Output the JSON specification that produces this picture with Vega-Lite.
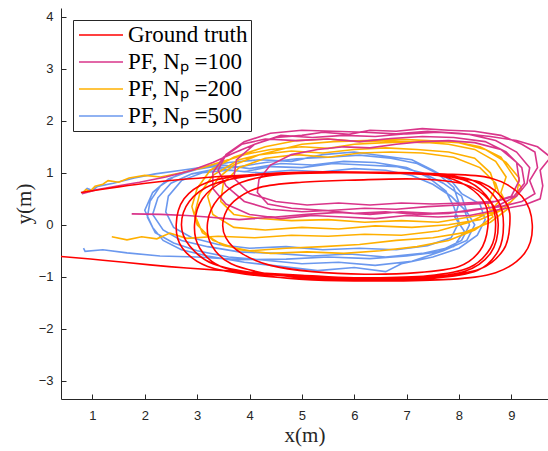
{
  "$schema": "https://vega.github.io/schema/vega-lite/v6.json",
  "width": 487,
  "height": 391,
  "autosize": {"type": "none"},
  "padding": {"left": 61, "top": 8, "right": 0, "bottom": 52},
  "background": "white",
  "config": {
    "view": {"stroke": null},
    "axis": {
      "grid": false,
      "domainColor": "#262626",
      "tickColor": "#262626",
      "tickSize": -5,
      "labelColor": "#262626",
      "labelFont": "Liberation Sans",
      "labelFontSize": 13,
      "titleFont": "Liberation Serif",
      "titleFontSize": 21,
      "titleFontWeight": "normal",
      "titleColor": "#262626"
    }
  },
  "datasets": {
    "traj": [
      {"s":"b","x":0.80,"y":0.60},{"s":"b","x":0.90,"y":0.70},{"s":"b","x":1.00,"y":0.66},{"s":"b","x":1.10,"y":0.74},{"s":"b","x":1.40,"y":0.80},{"s":"b","x":1.80,"y":0.90},{"s":"b","x":2.20,"y":0.98},{"s":"b","x":2.70,"y":1.05},{"s":"b","x":3.20,"y":1.12},{"s":"b","x":3.70,"y":1.10},{"s":"b","x":4.30,"y":1.20},{"s":"b","x":4.90,"y":1.27},{"s":"b","x":5.50,"y":1.30},{"s":"b","x":6.10,"y":1.34},{"s":"b","x":6.70,"y":1.28},{"s":"b","x":7.20,"y":1.18},{"s":"b","x":7.60,"y":0.98},{"s":"b","x":7.90,"y":0.72},{"s":"b","x":8.00,"y":0.42},{"s":"b","x":7.92,"y":0.15},{"s":"b","x":8.10,"y":-0.12},{"s":"b","x":7.90,"y":-0.42},{"s":"b","x":7.30,"y":-0.55},{"s":"b","x":6.60,"y":-0.62},{"s":"b","x":5.90,"y":-0.56},{"s":"b","x":5.20,"y":-0.60},{"s":"b","x":4.50,"y":-0.55},{"s":"b","x":3.80,"y":-0.52},{"s":"b","x":3.20,"y":-0.42},{"s":"b","x":2.70,"y":-0.30},{"s":"b","x":2.35,"y":-0.10},{"s":"b","x":2.15,"y":0.20},{"s":"b","x":2.25,"y":0.52},{"s":"b","x":2.50,"y":0.80},{"s":"b","x":2.90,"y":0.98},{"s":"b","x":3.40,"y":1.08},{"s":"b","x":3.90,"y":1.02},{"s":"b","x":4.40,"y":1.12},{"s":"b","x":5.00,"y":1.10},{"s":"b","x":5.60,"y":1.18},{"s":"b","x":6.20,"y":1.15},{"s":"b","x":6.80,"y":1.12},{"s":"b","x":7.30,"y":1.00},{"s":"b","x":7.70,"y":0.80},{"s":"b","x":8.05,"y":0.55},{"s":"b","x":8.15,"y":0.25},{"s":"b","x":8.30,"y":0.00},{"s":"b","x":8.15,"y":-0.30},{"s":"b","x":7.70,"y":-0.50},{"s":"b","x":7.10,"y":-0.70},{"s":"b","x":6.40,"y":-0.78},{"s":"b","x":5.70,"y":-0.72},{"s":"b","x":5.00,"y":-0.75},{"s":"b","x":4.30,"y":-0.68},{"s":"b","x":3.60,"y":-0.62},{"s":"b","x":3.00,"y":-0.50},{"s":"b","x":2.55,"y":-0.35},{"s":"b","x":2.20,"y":-0.15},{"s":"b","x":2.05,"y":0.15},{"s":"b","x":2.10,"y":0.45},{"s":"b","x":2.30,"y":0.75},{"s":"b","x":2.60,"y":0.95},{"s":"b","x":3.10,"y":1.10},{"s":"b","x":3.60,"y":1.20},{"s":"b","x":4.20,"y":1.25},{"s":"b","x":4.80,"y":1.22},{"s":"b","x":5.40,"y":1.35},{"s":"b","x":6.00,"y":1.40},{"s":"b","x":6.60,"y":1.32},{"s":"b","x":7.10,"y":1.25},{"s":"b","x":7.50,"y":1.05},{"s":"b","x":7.85,"y":0.85},{"s":"b","x":8.05,"y":0.60},{"s":"b","x":8.40,"y":0.40},{"s":"b","x":8.50,"y":0.10},{"s":"b","x":8.35,"y":-0.20},{"s":"b","x":8.00,"y":-0.45},{"s":"b","x":7.50,"y":-0.62},{"s":"b","x":6.90,"y":-0.75},{"s":"b","x":6.60,"y":-0.90},{"s":"b","x":6.00,"y":-0.82},{"s":"b","x":5.30,"y":-0.88},{"s":"b","x":4.60,"y":-0.80},{"s":"b","x":3.90,"y":-0.72},{"s":"b","x":3.20,"y":-0.60},{"s":"b","x":2.70,"y":-0.48},{"s":"b","x":2.35,"y":-0.30},{"s":"b","x":2.15,"y":-0.05},{"s":"b","x":2.00,"y":0.28},{"s":"b","x":2.15,"y":0.62},{"s":"b","x":2.45,"y":0.88},{"s":"b","x":2.90,"y":1.05},{"s":"b","x":3.50,"y":1.15},{"s":"b","x":4.00,"y":1.08},{"s":"b","x":4.60,"y":1.18},{"s":"b","x":5.20,"y":1.15},{"s":"b","x":5.80,"y":1.22},{"s":"b","x":6.40,"y":1.20},{"s":"b","x":7.00,"y":1.10},{"s":"b","x":7.40,"y":0.92},{"s":"b","x":7.75,"y":0.65},{"s":"b","x":7.90,"y":0.35},{"s":"b","x":8.00,"y":0.05},{"s":"b","x":7.85,"y":-0.25},{"s":"b","x":7.40,"y":-0.40},{"s":"b","x":6.80,"y":-0.48},{"s":"b","x":6.10,"y":-0.45},{"s":"b","x":5.40,"y":-0.48},{"s":"b","x":4.70,"y":-0.42},{"s":"b","x":4.00,"y":-0.45},{"s":"b","x":3.40,"y":-0.38},{"s":"b","x":2.90,"y":-0.25},{"s":"b","x":2.55,"y":-0.05},{"s":"b","x":2.40,"y":0.25},{"s":"b","x":2.45,"y":0.55},{"s":"b","x":2.70,"y":0.85},{"s":"b","x":3.10,"y":1.00},{"s":"b","x":3.60,"y":1.05},{"s":"b","x":4.20,"y":1.00},{"s":"b","x":4.80,"y":1.05},{"s":"b","x":5.40,"y":1.02},{"s":"b","x":6.00,"y":1.08},{"s":"b","x":6.60,"y":1.05},{"s":"b","x":7.10,"y":0.95},{"s":"b","x":7.50,"y":0.78},{"s":"b","x":7.85,"y":0.55},{"s":"b","x":8.10,"y":0.30},{"s":"b","x":8.20,"y":0.00},{"s":"b","x":8.05,"y":-0.30},{"s":"b","x":7.60,"y":-0.52},{"s":"b","x":7.00,"y":-0.60},{"s":"b","x":6.30,"y":-0.65},{"s":"b","x":5.50,"y":-0.62},{"s":"b","x":4.70,"y":-0.66},{"s":"b","x":3.82,"y":-0.67},{"s":"b","x":3.00,"y":-0.62},{"s":"b","x":2.29,"y":-0.60},{"s":"b","x":1.66,"y":-0.54},{"s":"b","x":1.20,"y":-0.48},{"s":"b","x":0.86,"y":-0.51},{"s":"b","x":0.83,"y":-0.45},
      {"s":"o","x":0.80,"y":0.60},{"s":"o","x":0.88,"y":0.68},{"s":"o","x":0.95,"y":0.64},{"s":"o","x":1.05,"y":0.74},{"s":"o","x":1.20,"y":0.78},{"s":"o","x":1.30,"y":0.85},{"s":"o","x":1.50,"y":0.82},{"s":"o","x":1.70,"y":0.90},{"s":"o","x":2.00,"y":0.95},{"s":"o","x":2.30,"y":0.92},{"s":"o","x":2.70,"y":1.00},{"s":"o","x":3.10,"y":1.10},{"s":"o","x":3.50,"y":1.22},{"s":"o","x":3.90,"y":1.35},{"s":"o","x":4.40,"y":1.45},{"s":"o","x":5.00,"y":1.50},{"s":"o","x":5.50,"y":1.47},{"s":"o","x":6.00,"y":1.55},{"s":"o","x":6.60,"y":1.58},{"s":"o","x":7.20,"y":1.60},{"s":"o","x":7.80,"y":1.55},{"s":"o","x":8.30,"y":1.45},{"s":"o","x":8.70,"y":1.22},{"s":"o","x":8.90,"y":0.92},{"s":"o","x":8.80,"y":0.62},{"s":"o","x":8.95,"y":0.32},{"s":"o","x":8.60,"y":0.05},{"s":"o","x":8.10,"y":-0.15},{"s":"o","x":7.50,"y":-0.25},{"s":"o","x":6.80,"y":-0.30},{"s":"o","x":6.10,"y":-0.38},{"s":"o","x":5.40,"y":-0.42},{"s":"o","x":4.70,"y":-0.45},{"s":"o","x":4.00,"y":-0.50},{"s":"o","x":3.50,"y":-0.40},{"s":"o","x":3.10,"y":-0.15},{"s":"o","x":2.95,"y":0.20},{"s":"o","x":3.05,"y":0.60},{"s":"o","x":3.30,"y":0.95},{"s":"o","x":3.80,"y":1.25},{"s":"o","x":4.40,"y":1.40},{"s":"o","x":5.00,"y":1.55},{"s":"o","x":5.60,"y":1.60},{"s":"o","x":6.20,"y":1.62},{"s":"o","x":6.80,"y":1.65},{"s":"o","x":7.40,"y":1.62},{"s":"o","x":8.00,"y":1.58},{"s":"o","x":8.50,"y":1.45},{"s":"o","x":8.90,"y":1.20},{"s":"o","x":9.15,"y":0.90},{"s":"o","x":9.10,"y":0.55},{"s":"o","x":8.85,"y":0.30},{"s":"o","x":8.40,"y":0.10},{"s":"o","x":7.80,"y":0.00},{"s":"o","x":7.10,"y":-0.05},{"s":"o","x":6.40,"y":-0.02},{"s":"o","x":5.70,"y":-0.08},{"s":"o","x":5.00,"y":-0.05},{"s":"o","x":4.30,"y":-0.10},{"s":"o","x":3.70,"y":-0.05},{"s":"o","x":3.30,"y":0.20},{"s":"o","x":3.20,"y":0.55},{"s":"o","x":3.40,"y":0.90},{"s":"o","x":3.70,"y":1.15},{"s":"o","x":4.20,"y":1.35},{"s":"o","x":4.80,"y":1.42},{"s":"o","x":5.40,"y":1.38},{"s":"o","x":6.00,"y":1.45},{"s":"o","x":6.60,"y":1.48},{"s":"o","x":7.20,"y":1.45},{"s":"o","x":7.80,"y":1.40},{"s":"o","x":8.30,"y":1.28},{"s":"o","x":8.60,"y":1.00},{"s":"o","x":8.70,"y":0.70},{"s":"o","x":8.55,"y":0.40},{"s":"o","x":8.65,"y":0.15},{"s":"o","x":8.30,"y":-0.10},{"s":"o","x":7.80,"y":-0.30},{"s":"o","x":7.20,"y":-0.42},{"s":"o","x":6.50,"y":-0.50},{"s":"o","x":5.80,"y":-0.55},{"s":"o","x":5.10,"y":-0.52},{"s":"o","x":4.40,"y":-0.55},{"s":"o","x":3.80,"y":-0.48},{"s":"o","x":3.30,"y":-0.30},{"s":"o","x":3.00,"y":0.00},{"s":"o","x":2.90,"y":0.35},{"s":"o","x":3.00,"y":0.70},{"s":"o","x":3.25,"y":1.05},{"s":"o","x":3.70,"y":1.30},{"s":"o","x":4.30,"y":1.50},{"s":"o","x":4.90,"y":1.62},{"s":"o","x":5.50,"y":1.65},{"s":"o","x":6.10,"y":1.60},{"s":"o","x":6.70,"y":1.62},{"s":"o","x":7.30,"y":1.58},{"s":"o","x":7.90,"y":1.60},{"s":"o","x":8.40,"y":1.50},{"s":"o","x":8.80,"y":1.30},{"s":"o","x":9.00,"y":1.00},{"s":"o","x":9.20,"y":0.70},{"s":"o","x":9.00,"y":0.45},{"s":"o","x":8.70,"y":0.25},{"s":"o","x":8.20,"y":0.15},{"s":"o","x":7.60,"y":0.05},{"s":"o","x":6.90,"y":0.08},{"s":"o","x":6.20,"y":0.05},{"s":"o","x":5.50,"y":0.10},{"s":"o","x":4.80,"y":0.08},{"s":"o","x":4.20,"y":0.12},{"s":"o","x":3.70,"y":0.20},{"s":"o","x":3.45,"y":0.45},{"s":"o","x":3.50,"y":0.80},{"s":"o","x":3.80,"y":1.10},{"s":"o","x":4.30,"y":1.28},{"s":"o","x":4.90,"y":1.35},{"s":"o","x":5.50,"y":1.30},{"s":"o","x":6.10,"y":1.38},{"s":"o","x":6.70,"y":1.40},{"s":"o","x":7.30,"y":1.38},{"s":"o","x":7.90,"y":1.30},{"s":"o","x":8.40,"y":1.10},{"s":"o","x":8.70,"y":0.80},{"s":"o","x":8.80,"y":0.50},{"s":"o","x":8.60,"y":0.25},{"s":"o","x":8.20,"y":0.05},{"s":"o","x":7.60,"y":-0.12},{"s":"o","x":6.90,"y":-0.20},{"s":"o","x":6.20,"y":-0.18},{"s":"o","x":5.50,"y":-0.22},{"s":"o","x":4.80,"y":-0.20},{"s":"o","x":4.10,"y":-0.25},{"s":"o","x":3.40,"y":-0.22},{"s":"o","x":2.80,"y":-0.26},{"s":"o","x":2.48,"y":-0.16},{"s":"o","x":2.23,"y":-0.27},{"s":"o","x":1.94,"y":-0.23},{"s":"o","x":1.66,"y":-0.29},{"s":"o","x":1.37,"y":-0.23},
      {"s":"m","x":0.80,"y":0.60},{"s":"m","x":1.10,"y":0.68},{"s":"m","x":1.50,"y":0.75},{"s":"m","x":1.90,"y":0.82},{"s":"m","x":2.40,"y":0.92},{"s":"m","x":2.90,"y":1.05},{"s":"m","x":3.30,"y":1.20},{"s":"m","x":3.70,"y":1.38},{"s":"m","x":4.10,"y":1.55},{"s":"m","x":4.50,"y":1.68},{"s":"m","x":5.00,"y":1.72},{"s":"m","x":5.40,"y":1.78},{"s":"m","x":5.90,"y":1.74},{"s":"m","x":6.30,"y":1.82},{"s":"m","x":6.80,"y":1.80},{"s":"m","x":7.30,"y":1.85},{"s":"m","x":7.80,"y":1.82},{"s":"m","x":8.30,"y":1.80},{"s":"m","x":8.80,"y":1.72},{"s":"m","x":9.20,"y":1.55},{"s":"m","x":9.45,"y":1.40},{"s":"m","x":9.50,"y":1.10},{"s":"m","x":9.35,"y":0.85},{"s":"m","x":9.45,"y":0.60},{"s":"m","x":9.20,"y":0.45},{"s":"m","x":8.80,"y":0.35},{"s":"m","x":8.30,"y":0.30},{"s":"m","x":7.80,"y":0.22},{"s":"m","x":7.20,"y":0.20},{"s":"m","x":6.60,"y":0.25},{"s":"m","x":6.00,"y":0.22},{"s":"m","x":5.40,"y":0.28},{"s":"m","x":4.80,"y":0.32},{"s":"m","x":4.35,"y":0.40},{"s":"m","x":4.15,"y":0.62},{"s":"m","x":4.18,"y":0.87},{"s":"m","x":4.40,"y":1.15},{"s":"m","x":4.80,"y":1.35},{"s":"m","x":5.30,"y":1.45},{"s":"m","x":5.80,"y":1.50},{"s":"m","x":6.30,"y":1.48},{"s":"m","x":6.80,"y":1.55},{"s":"m","x":7.30,"y":1.60},{"s":"m","x":7.80,"y":1.62},{"s":"m","x":8.30,"y":1.58},{"s":"m","x":8.80,"y":1.45},{"s":"m","x":9.10,"y":1.20},{"s":"m","x":9.15,"y":0.85},{"s":"m","x":9.00,"y":0.55},{"s":"m","x":8.60,"y":0.42},{"s":"m","x":8.00,"y":0.38},{"s":"m","x":7.40,"y":0.35},{"s":"m","x":6.80,"y":0.30},{"s":"m","x":6.20,"y":0.32},{"s":"m","x":5.60,"y":0.28},{"s":"m","x":5.00,"y":0.25},{"s":"m","x":4.40,"y":0.30},{"s":"m","x":3.90,"y":0.45},{"s":"m","x":3.55,"y":0.75},{"s":"m","x":3.40,"y":1.05},{"s":"m","x":3.55,"y":1.35},{"s":"m","x":3.90,"y":1.60},{"s":"m","x":4.40,"y":1.76},{"s":"m","x":5.00,"y":1.82},{"s":"m","x":5.60,"y":1.80},{"s":"m","x":6.20,"y":1.78},{"s":"m","x":6.80,"y":1.75},{"s":"m","x":7.40,"y":1.80},{"s":"m","x":8.00,"y":1.76},{"s":"m","x":8.60,"y":1.70},{"s":"m","x":9.10,"y":1.62},{"s":"m","x":9.50,"y":1.50},{"s":"m","x":9.75,"y":1.30},{"s":"m","x":9.55,"y":1.05},{"s":"m","x":9.60,"y":0.75},{"s":"m","x":9.55,"y":0.50},{"s":"m","x":9.25,"y":0.38},{"s":"m","x":8.80,"y":0.30},{"s":"m","x":8.20,"y":0.18},{"s":"m","x":7.60,"y":0.15},{"s":"m","x":7.00,"y":0.18},{"s":"m","x":6.40,"y":0.12},{"s":"m","x":5.80,"y":0.15},{"s":"m","x":5.20,"y":0.18},{"s":"m","x":4.60,"y":0.12},{"s":"m","x":4.00,"y":0.20},{"s":"m","x":3.55,"y":0.40},{"s":"m","x":3.30,"y":0.70},{"s":"m","x":3.30,"y":1.00},{"s":"m","x":3.50,"y":1.30},{"s":"m","x":3.85,"y":1.55},{"s":"m","x":4.30,"y":1.65},{"s":"m","x":4.90,"y":1.62},{"s":"m","x":5.50,"y":1.65},{"s":"m","x":6.10,"y":1.60},{"s":"m","x":6.70,"y":1.66},{"s":"m","x":7.30,"y":1.70},{"s":"m","x":7.90,"y":1.68},{"s":"m","x":8.50,"y":1.60},{"s":"m","x":8.90,"y":1.40},{"s":"m","x":9.20,"y":1.10},{"s":"m","x":9.25,"y":0.80},{"s":"m","x":9.05,"y":0.55},{"s":"m","x":8.70,"y":0.45},{"s":"m","x":8.10,"y":0.42},{"s":"m","x":7.50,"y":0.40},{"s":"m","x":6.90,"y":0.42},{"s":"m","x":6.30,"y":0.38},{"s":"m","x":5.70,"y":0.42},{"s":"m","x":5.10,"y":0.38},{"s":"m","x":4.50,"y":0.45},{"s":"m","x":4.00,"y":0.60},{"s":"m","x":3.70,"y":0.90},{"s":"m","x":3.75,"y":1.25},{"s":"m","x":4.10,"y":1.55},{"s":"m","x":4.60,"y":1.72},{"s":"m","x":5.20,"y":1.68},{"s":"m","x":5.80,"y":1.72},{"s":"m","x":6.40,"y":1.70},{"s":"m","x":7.00,"y":1.75},{"s":"m","x":7.60,"y":1.78},{"s":"m","x":8.20,"y":1.74},{"s":"m","x":8.70,"y":1.62},{"s":"m","x":9.10,"y":1.40},{"s":"m","x":9.35,"y":1.10},{"s":"m","x":9.30,"y":0.80},{"s":"m","x":9.10,"y":0.55},{"s":"m","x":8.70,"y":0.35},{"s":"m","x":8.10,"y":0.25},{"s":"m","x":7.50,"y":0.22},{"s":"m","x":6.90,"y":0.25},{"s":"m","x":6.30,"y":0.20},{"s":"m","x":5.70,"y":0.24},{"s":"m","x":5.10,"y":0.20},{"s":"m","x":4.50,"y":0.15},{"s":"m","x":3.80,"y":0.10},{"s":"m","x":3.20,"y":0.15},{"s":"m","x":2.80,"y":0.18},{"s":"m","x":2.30,"y":0.20},{"s":"m","x":1.75,"y":0.21}
    ],
    "truth": [
      {"s":"g","x":0.78,"y":0.62},{"s":"g","x":1.50,"y":0.73},{"s":"g","x":2.10,"y":0.81},{"s":"g","x":2.80,"y":0.88},{"s":"g","x":3.60,"y":0.94},{"s":"g","x":4.50,"y":0.98},{"s":"g","x":5.50,"y":1.00},{"s":"g","x":6.50,"y":1.00},{"s":"g","x":7.50,"y":0.97},{"s":"g","x":8.20,"y":0.82},{"s":"g","x":8.60,"y":0.45},{"s":"g","x":8.70,"y":0.00},{"s":"g","x":8.60,"y":-0.45},{"s":"g","x":8.20,"y":-0.82},{"s":"g","x":7.40,"y":-0.98},{"s":"g","x":6.30,"y":-1.02},{"s":"g","x":5.20,"y":-1.00},{"s":"g","x":4.20,"y":-0.94},{"s":"g","x":3.30,"y":-0.75},{"s":"g","x":2.85,"y":-0.40},{"s":"g","x":2.70,"y":0.00},{"s":"g","x":2.85,"y":0.45},{"s":"g","x":3.30,"y":0.78},{"s":"g","x":4.10,"y":0.95},{"s":"g","x":5.20,"y":1.00},{"s":"g","x":6.40,"y":1.00},{"s":"g","x":7.50,"y":0.98},{"s":"g","x":8.30,"y":0.84},{"s":"g","x":8.75,"y":0.45},{"s":"g","x":8.85,"y":0.00},{"s":"g","x":8.75,"y":-0.50},{"s":"g","x":8.35,"y":-0.88},{"s":"g","x":7.50,"y":-1.03},{"s":"g","x":6.30,"y":-1.06},{"s":"g","x":5.10,"y":-1.04},{"s":"g","x":4.10,"y":-0.97},{"s":"g","x":3.20,"y":-0.80},{"s":"g","x":2.72,"y":-0.45},{"s":"g","x":2.60,"y":0.00},{"s":"g","x":2.75,"y":0.50},{"s":"g","x":3.20,"y":0.82},{"s":"g","x":4.00,"y":0.96},{"s":"g","x":5.20,"y":1.01},{"s":"g","x":6.50,"y":1.01},{"s":"g","x":7.60,"y":0.98},{"s":"g","x":8.60,"y":0.90},{"s":"g","x":9.20,"y":0.55},{"s":"g","x":9.40,"y":0.00},{"s":"g","x":9.25,"y":-0.55},{"s":"g","x":8.70,"y":-0.92},{"s":"g","x":7.80,"y":-1.05},{"s":"g","x":6.50,"y":-1.08},{"s":"g","x":5.20,"y":-1.06},{"s":"g","x":4.30,"y":-0.98},{"s":"g","x":3.45,"y":-0.80},{"s":"g","x":3.05,"y":-0.45},{"s":"g","x":2.95,"y":0.00},{"s":"g","x":3.10,"y":0.50},{"s":"g","x":3.55,"y":0.85},{"s":"g","x":4.30,"y":0.98},{"s":"g","x":5.50,"y":1.02},{"s":"g","x":6.60,"y":1.00},{"s":"g","x":7.60,"y":0.95},{"s":"g","x":8.45,"y":0.80},{"s":"g","x":8.90,"y":0.42},{"s":"g","x":8.97,"y":0.00},{"s":"g","x":8.85,"y":-0.48},{"s":"g","x":8.40,"y":-0.85},{"s":"g","x":7.50,"y":-1.00},{"s":"g","x":6.30,"y":-1.04},{"s":"g","x":5.20,"y":-1.02},{"s":"g","x":4.40,"y":-0.95},{"s":"g","x":3.65,"y":-0.75},{"s":"g","x":3.28,"y":-0.40},{"s":"g","x":3.20,"y":0.05},{"s":"g","x":3.40,"y":0.50},{"s":"g","x":3.85,"y":0.82},{"s":"g","x":4.60,"y":0.97},{"s":"g","x":5.60,"y":1.00},{"s":"g","x":6.70,"y":0.99},{"s":"g","x":7.60,"y":0.95},{"s":"g","x":8.15,"y":0.75},{"s":"g","x":8.50,"y":0.40},{"s":"g","x":8.55,"y":-0.05},{"s":"g","x":8.40,"y":-0.50},{"s":"g","x":8.00,"y":-0.80},{"s":"g","x":7.20,"y":-0.92},{"s":"g","x":6.20,"y":-0.95},{"s":"g","x":5.20,"y":-0.90},{"s":"g","x":4.40,"y":-0.78},{"s":"g","x":3.85,"y":-0.55},{"s":"g","x":3.55,"y":-0.25},{"s":"g","x":3.50,"y":0.10},{"s":"g","x":3.70,"y":0.45},{"s":"g","x":4.20,"y":0.72},{"s":"g","x":5.00,"y":0.82},{"s":"g","x":6.00,"y":0.86},{"s":"g","x":7.20,"y":0.88},{"s":"g","x":8.10,"y":0.78},{"s":"g","x":8.60,"y":0.45},{"s":"g","x":8.75,"y":0.00},{"s":"g","x":8.60,"y":-0.55},{"s":"g","x":8.10,"y":-0.90},{"s":"g","x":7.20,"y":-1.02},{"s":"g","x":6.00,"y":-1.02},{"s":"g","x":5.00,"y":-0.97},{"s":"g","x":3.80,"y":-0.90},{"s":"g","x":2.80,"y":-0.83},{"s":"g","x":2.10,"y":-0.77},{"s":"g","x":1.20,"y":-0.68},{"s":"g","x":0.40,"y":-0.61},{"s":"g","x":0.20,"y":-0.59}
    ]
  },
  "layer": [
    {
      "data": {"name": "traj"},
      "mark": {"type": "line", "strokeWidth": 1.6, "clip": true},
      "encoding": {
        "x": {"field": "x", "type": "quantitative",
              "scale": {"domain": [0.4, 9.7], "nice": false, "zero": false},
              "axis": {"values": [1,2,3,4,5,6,7,8,9], "title": "x(m)", "labelPadding": 15, "titlePadding": 2}},
        "y": {"field": "y", "type": "quantitative",
              "scale": {"domain": [-3.35, 4.17], "nice": false, "zero": false},
              "axis": {"values": [-3,-2,-1,0,1,2,3,4], "title": "y(m)", "labelPadding": 13, "titlePadding": 4}},
        "color": {"field": "s", "type": "nominal",
          "scale": {"domain": ["g","m","o","b"], "range": ["#ff0000","#d9358a","#ffb000","#6b98ee"]},
          "legend": {
            "title": null, "orient": "none", "legendX": 12, "legendY": 12,
            "symbolType": "M-2,0H2", "symbolSize": 484, "symbolStrokeWidth": 1.6,
            "symbolOffset": 13,
            "labelFont": "Liberation Serif", "labelFontSize": 23, "labelColor": "#000000",
            "labelOffset": 15, "padding": 3, "rowPadding": 3,
            "strokeColor": "#262626", "fillColor": "#ffffff",
            "labelExpr": "{'g':'Ground truth','m':'PF, Nₚ =100','o':'PF, Nₚ =200','b':'PF, Nₚ =500'}[datum.value]"
          }},
        "order": {"value": null}
      }
    },
    {
      "data": {"name": "truth"},
      "mark": {"type": "line", "strokeWidth": 1.6, "clip": true, "interpolate": "cardinal"},
      "encoding": {
        "x": {"field": "x", "type": "quantitative"},
        "y": {"field": "y", "type": "quantitative"},
        "color": {"field": "s", "type": "nominal"},
        "order": {"value": null}
      }
    }
  ]
}
